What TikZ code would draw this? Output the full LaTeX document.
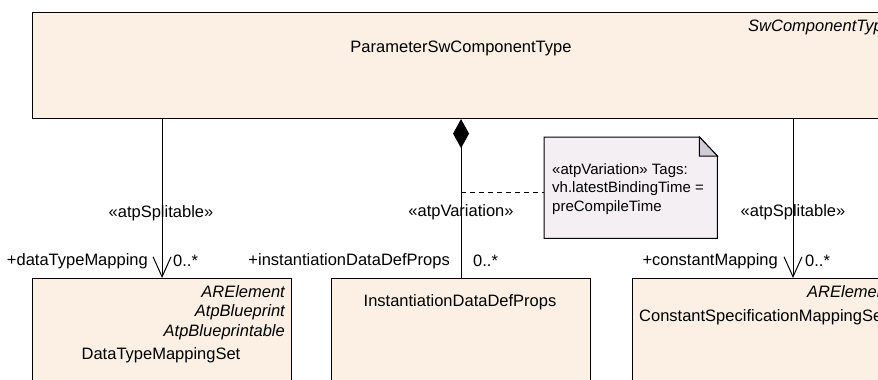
\documentclass[tikz,border=0pt]{standalone}
\usepackage{fontspec}
\setmainfont{Liberation Sans}
\usetikzlibrary{arrows.meta}
\definecolor{boxfill}{RGB}{251,240,227}
\definecolor{notefill}{RGB}{243,239,243}
\definecolor{foldfill}{RGB}{208,206,212}
\tikzset{
  umlbox/.style={draw=black, line width=1.1pt, fill=boxfill, inner sep=0pt, anchor=north west},
  lbl/.style={inner sep=0pt, font=\fontsize{16.5}{18}\selectfont},
  ster/.style={lbl, font=\fontsize{16.5}{18}\selectfont\itshape},
  notetxt/.style={inner sep=0pt, align=left, anchor=north west, font=\fontsize{15}{18.5}\selectfont},
  conn/.style={draw=black, line width=1pt},
  openhead/.style={-{Straight Barb[length=20pt,width=18pt,line width=1pt]}},
}
\begin{document}
\begin{tikzpicture}[x=1pt,y=-1pt]
\useasboundingbox (0,0) rectangle (878,380);
\clip (0,0) rectangle (878,380);
% boxes
\node[umlbox, minimum width=930pt, minimum height=106pt] (top) at (32,12) {};
\node[umlbox, minimum width=259pt, minimum height=140pt] (dtm) at (32,278) {};
\node[umlbox, minimum width=259pt, minimum height=140pt] (idp) at (331,278) {};
\node[umlbox, minimum width=322pt, minimum height=140pt] (csm) at (632,278) {};
\coordinate (csmin) at (793,278);
% top texts
\node[lbl] (ttl) at (461,48) {ParameterSwComponentType};
\node[ster, anchor=west] (tst) at (748,27) {SwComponentType};
% left box texts
\node[ster, anchor=east] (d1) at (285,292) {ARElement};
\node[ster, anchor=east] (d2) at (285,312) {AtpBlueprint};
\node[ster, anchor=east] (d3) at (285,332) {AtpBlueprintable};
\node[lbl] (d4) at (161,355) {DataTypeMappingSet};
% middle box text
\node[lbl] (i1) at (460,302) {InstantiationDataDefProps};
% right box texts
\node[ster, anchor=west] (c1) at (807,292) {ARElement};
\node[lbl, anchor=west] (c2) at (639,317) {ConstantSpecificationMappingSet};
% connectors
\draw[conn, openhead] (dtm.north |- top.south) -- (dtm.north);
\draw[conn, {Diamond[length=29pt,width=16pt,fill=black]}-] (idp.north |- top.south) -- (idp.north);
\draw[conn, openhead] (csmin |- top.south) -- (csmin);
% connector labels
\node[lbl] (s1) at (161,213) {«atpSplitable»};
\node[lbl] (s2) at (461,212) {«atpVariation»};
\node[lbl] (s3) at (793,212) {«atpSplitable»};
\node[lbl, anchor=east] (r1) at (148,261) {+dataTypeMapping};
\node[lbl, anchor=west] (m1) at (173,261) {0..*};
\node[lbl, anchor=east] (r2) at (450,261) {+instantiationDataDefProps};
\node[lbl, anchor=west] (m2) at (473,261) {0..*};
\node[lbl, anchor=east] (r3) at (778,261) {+constantMapping};
\node[lbl, anchor=west] (m3) at (805,261) {0..*};
% note
\node[inner sep=0pt, minimum width=173pt, minimum height=101pt, anchor=north west] (note) at (544,137) {};
\draw[line width=1pt, fill=notefill] (note.south west) -- (note.north west) -- ([xshift=-18pt]note.north east) -- ([yshift=-19pt]note.north east) -- (note.south east) -- cycle;
\draw[line width=1pt, fill=foldfill] ([xshift=-18pt]note.north east) -- ([xshift=-18pt,yshift=-19pt]note.north east) -- ([yshift=-19pt]note.north east) -- cycle;
\node[notetxt] (nt) at (552,163) {«atpVariation» Tags:\\vh.latestBindingTime =\\preCompileTime};
\coordinate (nd) at (461,192);
\draw[line width=1pt, dashed, dash pattern=on 5pt off 4pt] (nd) -- (note.west |- nd);
\end{tikzpicture}
\end{document}
